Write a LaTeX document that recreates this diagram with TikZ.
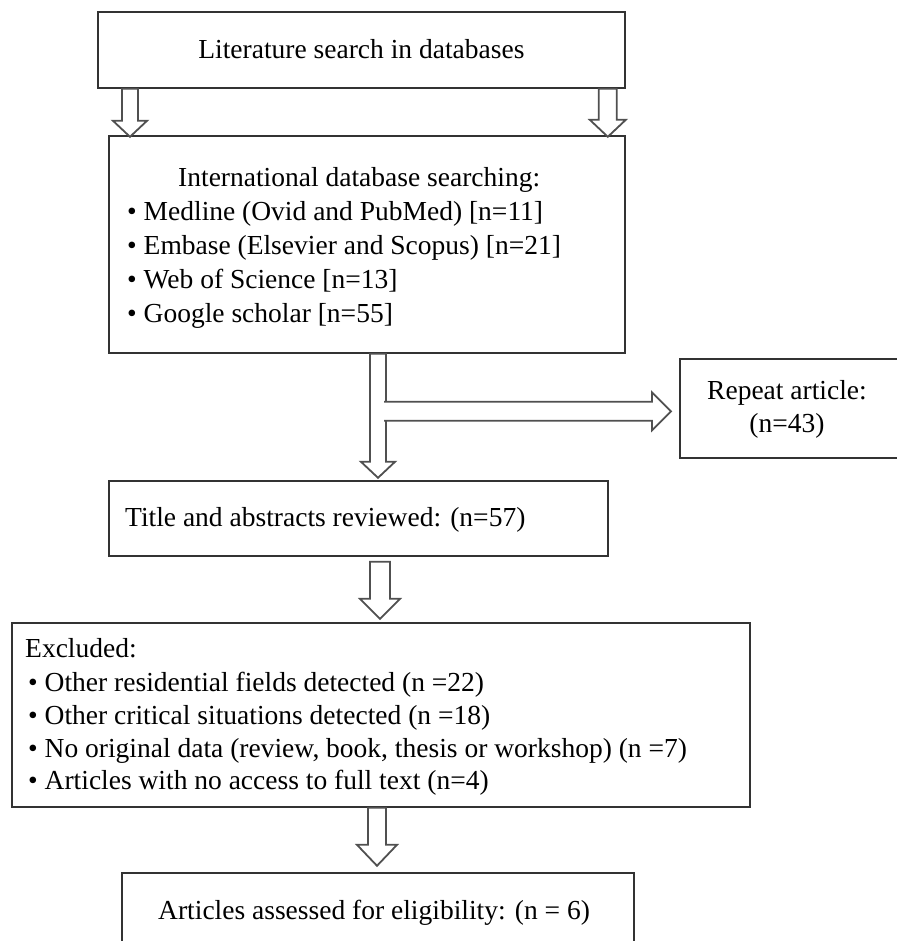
\documentclass[tikz,border=0pt]{standalone}
\usepackage{fontspec}
\setmainfont{Liberation Serif}
\usetikzlibrary{calc}
\definecolor{boxc}{HTML}{333333}
\definecolor{arrc}{HTML}{505050}
\tikzset{
  box/.style={draw=boxc, line width=1.8pt, fill=white, inner sep=0pt, anchor=north west},
  blk/.style={draw=arrc, line width=1.8pt, fill=white, line join=miter},
  txt/.style={inner sep=0pt, font=\fontsize{27.5}{32}\selectfont, anchor=base west, text=black},
  ctxt/.style={txt, anchor=base},
  pics/dn/.style n args={4}{code={\draw[blk] (-#2,0) -- (-#2,#1-#4) -- (-#3,#1-#4) -- (0,#1) -- (#3,#1-#4) -- (#2,#1-#4) -- (#2,0) -- cycle;}},
  pics/rt/.style n args={4}{code={\draw[blk] (0,-#2) -- (#1-#4,-#2) -- (#1-#4,-#3) -- (#1,0) -- (#1-#4,#3) -- (#1-#4,#2) -- (0,#2);}},
}
\begin{document}
\begin{tikzpicture}[x=1pt,y=-1pt]
\useasboundingbox (0,0) rectangle (896,941);
\fill[white] (0,0) rectangle (896,941);

% boxes
\node[box, minimum width=527pt, minimum height=76pt] (lit) at (97,11) {};
\node[box, minimum width=516pt, minimum height=217pt] (db) at (108,135) {};
\node[box, minimum width=225pt, minimum height=99pt] (rep) at (679,358) {};
\node[box, minimum width=499pt, minimum height=75pt] (tit) at (108,480) {};
\node[box, minimum width=738pt, minimum height=184pt] (exc) at (11,622) {};
\node[box, minimum width=512pt, minimum height=100pt] (art) at (121,872) {};

% block arrows
\pic at ($(lit.south west)+(33,0)$) {dn={48}{8}{17}{16}};
\pic at ($(lit.south east)+(-18,0)$) {dn={48}{9}{18}{17}};
\pic at ($(db.south west)+(270,0)$) {dn={124}{8}{17}{16}};
\coordinate (hs) at ($(db.south west)+(276,57.5)$);
\pic at (hs) {rt={287}{9.5}{19}{19}};
\pic at ($(tit.south west)+(272,5)$) {dn={57}{10}{20}{20}};
\pic at ($(exc.south west)+(366,0)$) {dn={58}{9}{20}{21}};

% texts
\node[ctxt] (t1) at ($(lit.center)+(0,9)$) {Literature search in databases};
\node[txt] (d0) at (178,187) {International database searching:};
\node[txt] (d1) at (127,221) {\textbullet\ Medline (Ovid and PubMed) [n=11]};
\node[txt] (d2) at (127,254) {\textbullet\ Embase (Elsevier and Scopus) [n=21]};
\node[txt] (d3) at (127,288) {\textbullet\ Web of Science [n=13]};
\node[txt] (d4) at (127,322) {\textbullet\ Google scholar [n=55]};
\node[ctxt] (r1) at (787,399) {Repeat article:};
\node[ctxt] (r2) at (787,432) {(n=43)};
\node[txt] (ti) at (125,526) {Title and abstracts reviewed: (n=57)};
\node[txt] (e0) at (25,657) {Excluded:};
\node[txt] (e1) at (28,691) {\textbullet\ Other residential fields detected (n =22)};
\node[txt] (e2) at (28,724) {\textbullet\ Other critical situations detected (n =18)};
\node[txt] (e3) at (28,757) {\textbullet\ No original data (review, book, thesis or workshop) (n =7)};
\node[txt] (e4) at (28,789) {\textbullet\ Articles with no access to full text (n=4)};
\node[txt] (a1) at (158,919) {Articles assessed for eligibility: (n = 6)};
\end{tikzpicture}
\end{document}
